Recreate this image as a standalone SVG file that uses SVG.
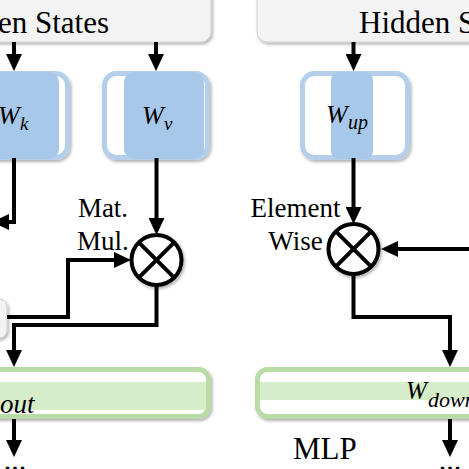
<svg xmlns="http://www.w3.org/2000/svg" width="469" height="469" viewBox="0 0 469 469">
<style>
.lbl{font-family:"Liberation Serif","Times New Roman",serif;fill:#000}
.math{font-family:"Liberation Serif","Times New Roman",serif;font-style:italic;fill:#000}
.gray{fill:#f3f3f3;stroke:#cfcfcf;stroke-width:1}
.bout{fill:#ffffff;stroke:#b5cfea;stroke-width:5}
.bin{fill:#a8c8e9}
.gout{fill:#ffffff;stroke:#b9dca6;stroke-width:5}
.band{fill:#d6edca}
.conn{fill:none;stroke:#000;stroke-width:4;stroke-linejoin:miter}
.op{fill:#fff;stroke:#000;stroke-width:4}
</style>
<defs>
<filter id="sh" x="-20%" y="-20%" width="140%" height="150%">
<feDropShadow dx="1.5" dy="2" stdDeviation="1.5" flood-color="#000" flood-opacity="0.3"/>
</filter>
<marker id="ah" markerUnits="userSpaceOnUse" markerWidth="17" markerHeight="16" refX="3" refY="8" orient="auto">
<path d="M0,0 L17,8 L0,16 z" fill="#000"/>
</marker>
</defs>

<g id="hidden-left">
<rect class="gray" x="-170" y="-20" width="381" height="62" rx="10" filter="url(#sh)"/>
<text class="lbl" x="-64" y="33" font-size="31">Hidden States</text>
</g>
<g id="hidden-right">
<rect class="gray" x="257" y="-20" width="381" height="62" rx="10" filter="url(#sh)"/>
<text class="lbl" x="359" y="33" font-size="31">Hidden States</text>
</g>
<g id="softmax-edge">
<rect class="gray" x="-100" y="299" width="107" height="39" rx="8" filter="url(#sh)"/>
</g>

<g id="wk">
<rect class="bout" x="-35.5" y="73.5" width="103" height="84" rx="12" filter="url(#sh)"/>
<rect class="bin" x="-18" y="72" width="77" height="87" rx="10"/>
<text class="math" x="-2" y="124" font-size="26">W</text>
<text class="math" x="20" y="130" font-size="19">k</text>
</g>
<g id="wv">
<rect class="bout" x="104.5" y="73.5" width="103" height="84" rx="12" filter="url(#sh)"/>
<rect class="bin" x="124" y="72" width="80" height="87" rx="10"/>
<text class="math" x="142" y="124" font-size="26">W</text>
<text class="math" x="164" y="130" font-size="19">v</text>
</g>
<g id="wup">
<rect class="bout" x="302.5" y="73.5" width="105" height="84" rx="12" filter="url(#sh)"/>
<rect class="bin" x="331" y="72" width="42" height="87" rx="8"/>
<text class="math" x="326" y="123" font-size="26">W</text>
<text class="math" x="348" y="129" font-size="20">up</text>
</g>

<g id="matmul">
<circle class="op" cx="156.5" cy="260" r="25" filter="url(#sh)"/>
<path class="conn" d="M138.8,242.3 L174.2,277.7 M174.2,242.3 L138.8,277.7"/>
<text class="lbl" x="103" y="217" font-size="27" text-anchor="middle">Mat.</text>
<text class="lbl" x="103" y="250" font-size="27" text-anchor="middle">Mul.</text>
</g>
<g id="elemwise">
<circle class="op" cx="353.5" cy="249" r="25" filter="url(#sh)"/>
<path class="conn" d="M335.8,231.3 L371.2,266.7 M371.2,231.3 L335.8,266.7"/>
<text class="lbl" x="295.5" y="217" font-size="27" text-anchor="middle">Element</text>
<text class="lbl" x="295.5" y="250" font-size="27" text-anchor="middle">Wise</text>
</g>

<g id="wout">
<rect class="gout" x="-150" y="369.5" width="358.5" height="47" rx="10" filter="url(#sh)"/>
<rect class="band" x="-147" y="382" width="353" height="28"/>
<text class="math" x="-28" y="406" font-size="30">W</text>
<text class="math" x="0" y="413" font-size="27">out</text>
</g>
<g id="wdown">
<rect class="gout" x="257.5" y="369.5" width="400" height="47" rx="10" filter="url(#sh)"/>
<rect class="band" x="260" y="382" width="395" height="18"/>
<text class="math" x="406" y="399" font-size="25">W</text>
<text class="math" x="428" y="407" font-size="22">down</text>
</g>

<g id="mlp-label">
<text class="lbl" x="293" y="459" font-size="31">MLP</text>
</g>
<g id="dots">
<text class="lbl" x="15" y="470" font-size="30" text-anchor="middle">...</text>
<text class="lbl" x="450" y="470" font-size="30" text-anchor="middle">...</text>
</g>

<g id="connectors">
<path class="conn" d="M14,42 V57" marker-end="url(#ah)"/>
<path class="conn" d="M156,42 V57" marker-end="url(#ah)"/>
<path class="conn" d="M353.5,42 V57" marker-end="url(#ah)"/>
<path class="conn" d="M14,158 V222 H6" marker-end="url(#ah)"/>
<path class="conn" d="M156.5,158 V221" marker-end="url(#ah)"/>
<path class="conn" d="M7,317 H68 V260 H117" marker-end="url(#ah)"/>
<path class="conn" d="M156.5,285 V325 H14 V353" marker-end="url(#ah)"/>
<path class="conn" d="M14,419 V443" marker-end="url(#ah)"/>
<path class="conn" d="M353.5,158 V210" marker-end="url(#ah)"/>
<path class="conn" d="M469,249 H395" marker-end="url(#ah)"/>
<path class="conn" d="M353.5,274 V317 H450 V353" marker-end="url(#ah)"/>
<path class="conn" d="M450,419 V443" marker-end="url(#ah)"/>
</g>
</svg>
